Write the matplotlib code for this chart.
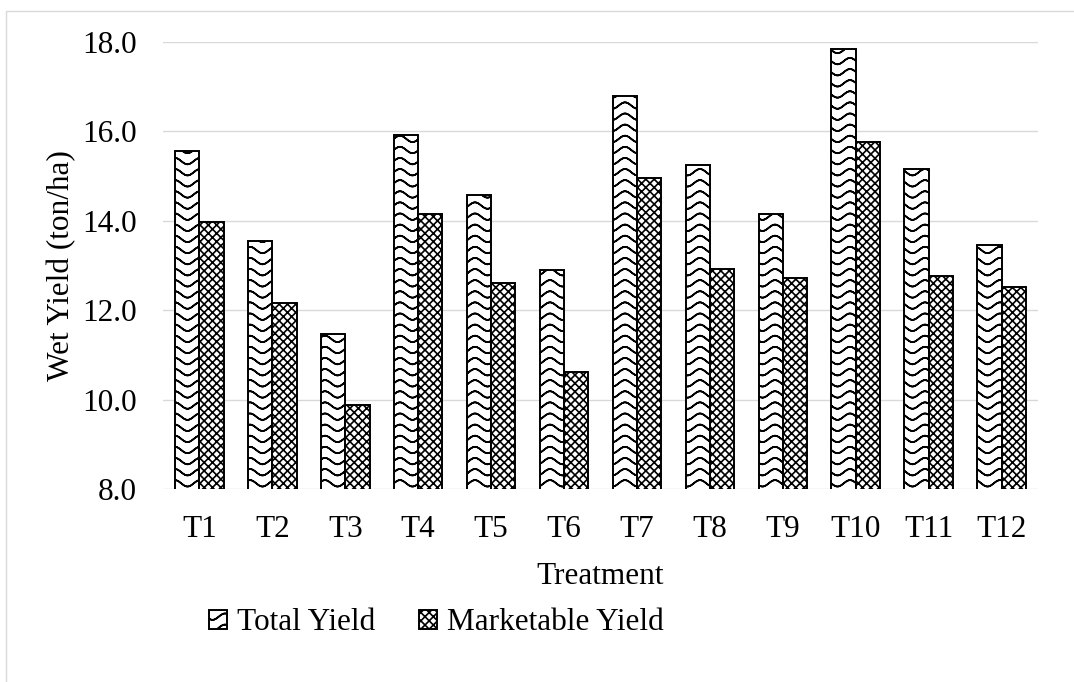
import warnings
import numpy as np
import matplotlib
matplotlib.use('Agg')
import matplotlib.pyplot as plt
import matplotlib.hatch as mhatch
from matplotlib.path import Path
from matplotlib.patches import Rectangle

warnings.filterwarnings('ignore')

# data
treatments = ['T1', 'T2', 'T3', 'T4', 'T5', 'T6', 'T7', 'T8', 'T9', 'T10', 'T11', 'T12']
total_yield = [15.57, 13.55, 11.47, 15.92, 14.57, 12.91, 16.80, 15.25, 14.16, 17.84, 15.16, 13.46]
market_yield = [13.98, 12.15, 9.89, 14.15, 12.60, 10.62, 14.96, 12.92, 12.72, 15.76, 12.77, 12.53]


# wavy hatch like the excel "wave" pattern
# each row goes out and back on itself so agg's hatch fill has no area
class WaveHatch(mhatch.HatchPatternBase):
    def __init__(self, hatch, density):
        self.rows = hatch.count('~') * 9
        self.npts = 81
        self.num_vertices = self.rows * self.npts * 2

    def set_vertices_and_codes(self, vertices, codes):
        xs = np.linspace(0.0, 1.0, self.npts)
        ys = np.cos(2 * np.pi * 4 * xs) * 0.032
        xs2 = np.concatenate([xs, xs[::-1]])
        ys2 = np.concatenate([ys, ys[::-1]])
        n = 2 * self.npts
        step = 1.0 / self.rows
        for i in range(self.rows):
            y0 = step * (i + 0.5)
            sl = slice(i * n, (i + 1) * n)
            vertices[sl, 0] = xs2
            vertices[sl, 1] = y0 + ys2
            codes[sl] = Path.LINETO
            codes[i * n] = Path.MOVETO


mhatch._hatch_types.append(WaveHatch)

plt.rcParams['font.family'] = ['Liberation Serif', 'DejaVu Serif']
plt.rcParams['font.size'] = 22.5
plt.rcParams['hatch.linewidth'] = 1.2

fig = plt.figure(figsize=(10.74, 6.82), dpi=100)
ax = fig.add_axes([163 / 1074, 1 - 489 / 682, 875 / 1074, 447 / 682])

x = np.arange(len(treatments))
w = 0.333
ax.bar(x - w / 2, total_yield, w, color='white', edgecolor='black', linewidth=1.4,
       hatch='~', label='Total Yield', zorder=3)
ax.bar(x + w / 2, market_yield, w, color='white', edgecolor='black', linewidth=1.4,
       hatch='xxxx', label='Marketable Yield', zorder=3)

ax.set_xlim(-0.5, len(treatments) - 0.5)
ax.set_ylim(8, 18)
ax.set_yticks(np.arange(8, 18.1, 2))
ax.set_yticklabels(['%.1f' % v for v in np.arange(8, 18.1, 2)])
ax.set_xticks(x)
ax.set_xticklabels(treatments)
ax.yaxis.grid(True, color='#d9d9d9', linewidth=1.0, zorder=0)
ax.set_axisbelow(True)
for s in ax.spines.values():
    s.set_visible(False)
ax.tick_params(axis='both', length=0)
ax.tick_params(axis='y', pad=19)
ax.tick_params(axis='x', pad=19)

ax.set_xlabel('Treatment', labelpad=13)
ax.set_ylabel('Wet Yield (ton/ha)', labelpad=4.5)

fig.legend(loc='center', bbox_to_anchor=(436 / 1074, 1 - 623 / 682), ncol=2, frameon=False,
           handlelength=0.6, handleheight=0.6, handletextpad=0.3, columnspacing=1.4)

# light grey chart-area border
fig.patches.append(Rectangle((5.5 / 1074, -0.1), 1.2, (682 - 11) / 682 + 0.1,
                             transform=fig.transFigure, fill=False,
                             edgecolor='#d9d9d9', linewidth=1.0))

fig.savefig('out.png', dpi=100)
